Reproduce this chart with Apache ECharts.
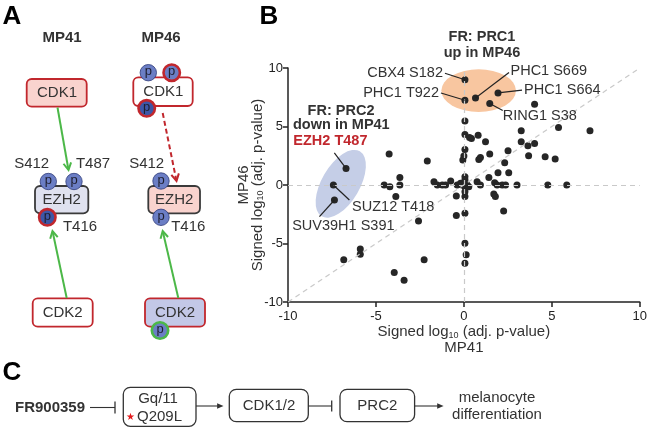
<!DOCTYPE html>
<html><head><meta charset="utf-8">
<script src="https://cdn.jsdelivr.net/npm/echarts@6/dist/echarts.min.js"></script>
<style>html,body{margin:0;padding:0;background:#fff}#c{width:650px;height:428px}</style>
</head><body><div id="c"></div>
<script>
const FONT = "'Liberation Sans', Arial, Helvetica, sans-serif";
const TXT = '#333333';

// ---- Panel B data ----
const xTicks = [-10, -5, 0, 5, 10];
const yTicks = [-10, -5, 0, 5, 10];
const labelNames = ['CBX4 S182', 'PHC1 T922', 'PHC1 S669', 'PHC1 S664', 'RING1 S38', 'EZH2 T487', 'SUZ12 T418', 'SUV39H1 S391'];
const labelX = [0.06, 0.06, 0.66, 1.94, 1.47, -6.70, -7.42, -7.36];
const labelY = [9.0, 7.24, 7.44, 7.87, 6.96, 1.42, 0.0, -1.28];
const otherX = [4.02, 0.06, 5.38, 7.17, 3.26, 0.06, 0.32, 0.43, 0.81, 1.23, 3.26, 3.64, 4.02, 0.06, 2.51, 1.47, 3.68, 4.62, 5.19, 0.94, 0.85, 0.0, -0.06, -4.25, -2.08, 2.32, 1.94, 2.55, 1.42, -3.64, -4.53, -4.21, -3.64, -3.87, -1.70, -1.51, -1.23, -1.04, -0.75, -0.38, -0.19, 0.06, 0.06, 0.06, 0.19, 0.28, 0.06, -0.10, 0.06, 0.06, -0.43, 0.75, 0.94, 1.75, 1.89, 2.18, 2.37, 3.02, 4.77, 5.85, 1.70, 1.79, 2.26, 0.06, -0.43, -2.58, 0.06, 0.13, 0.06, -5.89, -5.89, -6.83, -2.26, -3.96, -3.40];
const otherY = [6.90, 5.48, 4.91, 4.63, 4.63, 4.32, 4.06, 3.98, 4.26, 3.69, 3.69, 3.35, 3.55, 3.04, 2.93, 2.64, 2.50, 2.41, 2.22, 2.36, 2.19, 2.47, 2.13, 2.64, 2.05, 1.90, 1.05, 1.05, 0.65, 0.65, 0.0, -0.14, 0.0, -0.99, 0.28, 0.0, 0.0, 0.0, 0.34, 0.0, 0.14, 0.71, 0.43, -0.14, 0.0, -0.14, 0.14, 0.0, -0.57, -0.99, -0.94, 0.28, 0.0, 0.20, 0.0, 0.0, 0.0, 0.0, 0.0, 0.0, -0.77, -0.99, -2.22, -2.41, -2.61, -3.07, -4.97, -5.97, -6.68, -5.48, -5.91, -6.39, -6.39, -7.47, -8.15];
// ellipse centres (data coords)
const prc1Center = [0.84, 8.07];
const prc2Center = [-7.0, 0.1];

const chart = echarts.init(document.getElementById('c'), null, {renderer: 'canvas'});

const scatterData = [];
for (let i = 0; i < otherX.length; i++) scatterData.push([otherX[i], otherY[i]]);
const labeledData = labelNames.map((n, i) => ({name: n, value: [labelX[i], labelY[i]]}));

const axisCommon = {
  type: 'value', min: -10, max: 10, interval: 5,
  splitLine: {show: false},
  nameMoveOverlap: false,
  axisLine: {show: true, onZero: false, lineStyle: {color: '#222', width: 1.5}},
  axisTick: {show: true, length: 5, lineStyle: {color: '#222', width: 1.5}},
};
const nameStyle = {
  fontSize: 15, color: TXT, fontFamily: FONT,
  rich: {s: {fontSize: 9, fontFamily: FONT, color: TXT, verticalAlign: 'bottom', padding: [0, 0, 0, 0]}}
};

chart.setOption({
  animation: false,
  backgroundColor: '#fff',
  grid: {left: 288, top: 68, right: 9, bottom: 126, containLabel: false},
  xAxis: Object.assign({}, axisCommon, {
    axisLabel: {fontSize: 13, color: '#222', fontFamily: FONT, margin: 8,
      customValues: xTicks},
    name: 'Signed log{s|10} (adj. p-value)\nMP41',
    nameLocation: 'middle', nameGap: 22,
    nameTextStyle: Object.assign({}, nameStyle, {lineHeight: 16})
  }),
  yAxis: Object.assign({}, axisCommon, {
    axisLabel: {fontSize: 13, color: '#222', fontFamily: FONT, margin: 5,
      customValues: yTicks},
    name: 'MP46\nSigned log{s|10} (adj. p-value)',
    nameLocation: 'middle', nameGap: 23, nameRotate: 90,
    nameTextStyle: Object.assign({}, nameStyle, {lineHeight: 14})
  }),
  series: [
    {
      type: 'line', data: [], z: 1, silent: true,
      markLine: {
        silent: true, symbol: 'none', animation: false,
        label: {show: false},
        lineStyle: {color: '#c9c9c9', type: [5, 4], width: 1.2},
        data: [{xAxis: 0}, {yAxis: 0}, [{coord: [-10, -10]}, {coord: [10, 10]}]]
      }
    },
    {type: 'scatter', data: scatterData, symbolSize: 7, z: 3,
      itemStyle: {color: '#262626', opacity: 1}},
    {type: 'scatter', data: labeledData, symbolSize: 7, z: 3,
      itemStyle: {color: '#262626', opacity: 1}}
  ]
});

// ---- graphic helpers ----
function T(text, x, y, opt) {
  opt = opt || {};
  const al = opt.align || 'center';
  return {type: 'text', z: 20, style: {text: text, x: x, y: y,
    font: (opt.bold ? 'bold ' : '') + (opt.size || 15) + 'px ' + FONT,
    fill: opt.color || TXT, align: al, textAlign: al,
    verticalAlign: 'middle', textVerticalAlign: 'middle'}};
}
function box(x, y, w, h, fill, stroke, lw, r) {
  return {type: 'rect', z: 10, shape: {x: x, y: y, width: w, height: h, r: r == null ? 5 : r},
    style: {fill: fill, stroke: stroke, lineWidth: lw || 1.8}};
}
function L(x1, y1, x2, y2, color, w, dash) {
  return {type: 'line', z: 12, shape: {x1: x1, y1: y1, x2: x2, y2: y2},
    style: {stroke: color, lineWidth: w || 1, lineDash: dash || null}};
}
function arrow(x1, y1, x2, y2, color, w, dash, head, filled) {
  const a = Math.atan2(y2 - y1, x2 - x1), s = filled ? 0.42 : 0.5;
  const p1 = [x2 - head * Math.cos(a - s), y2 - head * Math.sin(a - s)];
  const p2 = [x2 - head * Math.cos(a + s), y2 - head * Math.sin(a + s)];
  const ex = filled ? x2 - head * 0.8 * Math.cos(a) : x2 - 0.5 * Math.cos(a);
  const ey = filled ? y2 - head * 0.8 * Math.sin(a) : y2 - 0.5 * Math.sin(a);
  const els = [L(x1, y1, ex, ey, color, w, dash)];
  if (filled) els.push({type: 'polygon', z: 12, shape: {points: [p1, [x2, y2], p2]}, style: {fill: color}});
  else els.push({type: 'polyline', z: 12, shape: {points: [p1, [x2, y2], p2]}, style: {stroke: color, lineWidth: w, fill: null}});
  return els;
}
function inhibit(x1, x2, y, bh) {
  return [L(x1, y, x2, y, '#333', 1.1), L(x2, y - bh, x2, y + bh, '#333', 1.3)];
}
const MED = '#6b7ec5', DARK = '#3d56a6', RED = '#c1272d', GREEN = '#4cb848';
function pc(x, y, fill, ring) {
  const els = [];
  els.push({type: 'circle', z: 14, shape: {cx: x, cy: y, r: 8.2},
    style: {fill: fill, stroke: ring || '#2d3a78', lineWidth: ring ? 2.6 : 0.8}});
  els.push({type: 'text', z: 15, style: {text: 'p', x: x, y: y - 1, font: '13px ' + FONT, fill: '#1e1e2e',
    align: 'center', textAlign: 'center', verticalAlign: 'middle', textVerticalAlign: 'middle'}});
  return els;
}

let G = [];
// Panel letters
G.push(T('A', 12, 17, {bold: true, size: 26, color: '#000'}));
G.push(T('B', 269, 17, {bold: true, size: 26, color: '#000'}));
G.push(T('C', 12, 373, {bold: true, size: 26, color: '#000'}));

// ---- Panel A ----
const PINK = '#f9d3ce', LAV = '#dfe1ef', LAV2 = '#c3c8e7';
G.push(T('MP41', 62, 38, {bold: true}));
G.push(T('MP46', 161, 38, {bold: true}));
// MP41
G = G.concat(arrow(57.5, 107.5, 68.5, 170, GREEN, 2, null, 8, false));
G = G.concat(arrow(66.7, 298, 52.5, 231, GREEN, 2, null, 8, false));
G.push(box(26.7, 79, 60, 27.7, PINK, RED, 1.8));
G.push(T('CDK1', 57, 93));
G.push(T('S412', 31.7, 164));
G.push(T('T487', 93, 164));
G.push(box(35, 186, 53.3, 27.3, LAV, '#3a3a3a', 1.8));
G.push(T('EZH2', 61.7, 199.5));
G = G.concat(pc(48.3, 181.5, MED), pc(74, 181.5, MED), pc(47.3, 217.3, DARK, RED));
G.push(T('T416', 80, 226.7));
G.push(box(32.7, 298.3, 60, 28.4, '#ffffff', RED, 1.8));
G.push(T('CDK2', 62.7, 312.5));
// MP46
G = G.concat(arrow(162.7, 113, 176.5, 181, RED, 2, [5, 3], 8, false));
G = G.concat(arrow(178.3, 298, 162.7, 231, GREEN, 2, null, 8, false));
G.push(box(133.3, 77.3, 59.4, 28.7, '#ffffff', RED, 1.8));
G.push(T('CDK1', 163.3, 91.7));
G = G.concat(pc(148.3, 72.7, MED), pc(171.7, 72.7, MED, RED), pc(146.7, 108.3, DARK, RED));
G.push(T('S412', 146.7, 164));
G.push(box(148.3, 186, 51.7, 27.3, PINK, '#3a3a3a', 1.8));
G.push(T('EZH2', 174.2, 199.5));
G = G.concat(pc(161, 181, MED), pc(161, 217.3, MED));
G.push(T('T416', 188.3, 226.7));
G.push(box(145, 298.3, 60, 28.4, LAV2, RED, 1.8));
G.push(T('CDK2', 175, 312.5));
G = G.concat(pc(160, 330.5, MED, GREEN));

// ---- Panel C ----
G.push(T('FR900359', 15, 407.5, {bold: true, align: 'left'}));
G = G.concat(inhibit(90, 115, 407.5, 6));
G.push(box(123.3, 387.3, 72.7, 39, '#fff', '#333', 1.3, 7));
G.push(T('Gq/11', 158, 398.5));
G.push(T('\u2605', 130.5, 417.5, {size: 10, color: '#e31a1c'}));
G.push(T('Q209L', 137, 417, {align: 'left'}));
G = G.concat(arrow(196, 406, 223.5, 406, '#333', 1.1, null, 7, true));
G.push(box(229.3, 389.3, 79, 32.4, '#fff', '#333', 1.3, 7));
G.push(T('CDK1/2', 269, 406));
G = G.concat(inhibit(308.3, 331.7, 406, 5.5));
G.push(box(340, 389.3, 74.6, 32.4, '#fff', '#333', 1.3, 7));
G.push(T('PRC2', 377.3, 406));
G = G.concat(arrow(414.6, 406, 443.6, 406, '#333', 1.1, null, 7, true));
G.push(T('melanocyte', 497, 398));
G.push(T('differentiation', 497, 415));

// ---- Panel B annotations (anchored on data points) ----
function px(x, y) { return chart.convertToPixel({gridIndex: 0}, [x, y]); }
const oc = px(prc1Center[0], prc1Center[1]);
G.push({type: 'circle', z: 0, x: oc[0], y: oc[1], scaleX: 37.3 / 21.3, scaleY: 1,
  shape: {cx: 0, cy: 0, r: 21.3}, style: {fill: '#f8c6a0'}});
const bc = px(prc2Center[0], prc2Center[1]);
G.push({type: 'circle', z: 0, x: bc[0], y: bc[1], scaleX: 1, scaleY: 37.7 / 19, rotation: -0.53,
  shape: {cx: 0, cy: 0, r: 19}, style: {fill: '#c5cee7'}});
G.push(T('FR: PRC1', oc[0] + 3.3, oc[1] - 53.2, {bold: true, size: 14.5}));
G.push(T('up in MP46', oc[0] + 3.3, oc[1] - 37.8, {bold: true, size: 14.5}));

// label offsets: [textDx, textDy, align, lineDx, lineDy]
const ann = {
  'CBX4 S182': [-22, -7, 'right', -20, -6.5],
  'PHC1 T922': [-26, -7.6, 'right', -24, -7.3],
  'PHC1 S669': [35, -27, 'left', 33.5, -25.5],
  'PHC1 S664': [26, -3.4, 'left', 24, -2.8],
  'RING1 S38': [13, 12.4, 'left', 13, 7],
  'SUZ12 T418': [18.7, 22.3, 'left', 16, 15],
  'SUV39H1 S391': [-42.3, 26, 'left', -15, 16.7]
};
labelNames.forEach((n, i) => {
  const p = px(labelX[i], labelY[i]);
  if (n === 'EZH2 T487') {
    G.push(T('FR: PRC2', p[0] - 5, p[1] - 57.3, {bold: true, size: 14.5}));
    G.push(T('down in MP41', p[0] - 4.7, p[1] - 43, {bold: true, size: 14.5}));
    G.push(T('EZH2 T487', p[0] - 52.7, p[1] - 27.6, {bold: true, size: 14.5, align: 'left', color: '#c1272d'}));
    G.push(L(p[0] - 11.7, p[1] - 15.6, p[0], p[1], '#222', 1.2));
    return;
  }
  const a = ann[n];
  G.push(T(n, p[0] + a[0], p[1] + a[1], {size: 14.5, align: a[2]}));
  G.push(L(p[0] + a[3], p[1] + a[4], p[0], p[1], '#222', 1.2));
});

chart.setOption({graphic: {elements: G}});
</script>
</body></html>
